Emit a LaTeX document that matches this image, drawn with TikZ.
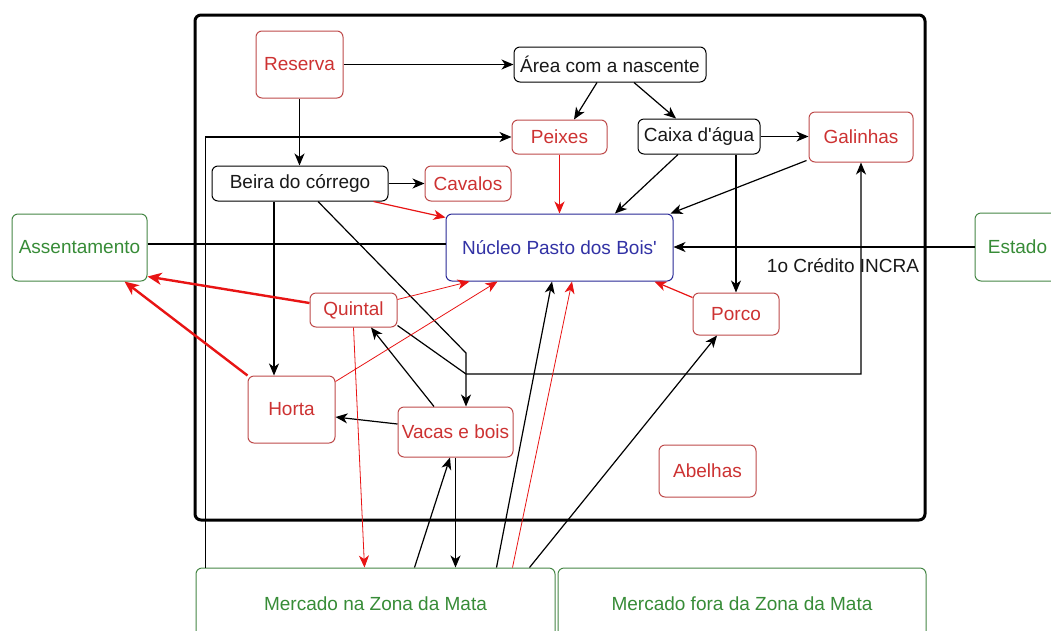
\documentclass[tikz,border=0pt]{standalone}
\usepackage{fontspec}
\setmainfont{Liberation Sans}[Ligatures=TeXOff]
\usetikzlibrary{arrows.meta,calc}
\definecolor{rbord}{RGB}{190,75,75}
\definecolor{rtext}{RGB}{205,50,50}
\definecolor{gbord}{RGB}{70,135,70}
\definecolor{gtext}{RGB}{55,140,55}
\definecolor{bbord}{RGB}{40,40,150}
\definecolor{btext}{RGB}{50,50,165}
\definecolor{ktext}{RGB}{25,25,25}
\definecolor{rline}{RGB}{232,20,20}
\newcommand\dfont{\fontsize{19}{22}\selectfont}
\tikzset{
  box/.style={draw, rounded corners=6pt, line width=1pt, inner sep=0pt, fill=white, align=center, font=\dfont},
  redbox/.style={box, draw=rbord, text=rtext},
  grnbox/.style={box, draw=gbord, text=gtext},
  blkbox/.style={box, draw=black, text=ktext},
  blubox/.style={box, draw=bbord, text=btext},
  arr/.style={draw=black, line width=1.2pt, -{Stealth[length=12pt,width=10pt,inset=3.5pt]}},
  rarr/.style={draw=rline, line width=1.2pt, -{Stealth[length=12pt,width=10pt,inset=3.5pt]}},
  rthin/.style={draw=rline, line width=0.8pt, -{Stealth[length=12pt,width=10pt,inset=3.5pt]}},
  rthick/.style={draw=rline, line width=2.4pt, -{Stealth[length=14pt,width=12pt,inset=4pt]}},
  plainline/.style={draw=black, line width=2.2pt},
  elabel/.style={font=\dfont, text=ktext, inner sep=0pt}
}
\begin{document}
\begin{tikzpicture}[x=1pt,y=-1pt]
\useasboundingbox (0,0) rectangle (1051,630);
\fill[white] (0,0) rectangle (1051,630);
\clip (0,0) rectangle (1051,630);

% container
\node[draw, line width=3pt, rounded corners=6pt, minimum width=730pt, minimum height=505pt, inner sep=0pt] (container) at (560,267.5) {};

% nodes
\node[redbox, minimum width=87pt, minimum height=67pt] (reserva) at (299.5,64.5) {Reserva};
\node[blkbox, minimum width=192pt, minimum height=35pt] (area) at (610,64.5) {Área com a nascente};
\node[redbox, minimum width=95pt, minimum height=34pt] (peixes) at (559.5,137) {Peixes};
\node[blkbox, minimum width=122pt, minimum height=35pt] (caixa) at (699,136.5) {Caixa d'água};
\node[redbox, minimum width=104pt, minimum height=50pt] (galinhas) at (861,137) {Galinhas};
\node[blkbox, minimum width=176pt, minimum height=35pt] (beira) at (300,183.5) {Beira do córrego};
\node[redbox, minimum width=86pt, minimum height=35pt] (cavalos) at (468,183.5) {Cavalos};
\node[blubox, minimum width=227pt, minimum height=67pt] (nucleo) at (559.5,247.5) {Núcleo Pasto dos Bois'};
\node[grnbox, minimum width=135pt, minimum height=67pt] (assent) at (79.5,247.5) {Assentamento};
\node[grnbox, minimum width=85pt, minimum height=68pt] (estado) at (1017.5,247) {Estado};
\node[redbox, minimum width=87pt, minimum height=34pt] (quintal) at (353.5,310) {Quintal};
\node[redbox, minimum width=86pt, minimum height=42pt] (porco) at (736,314) {Porco};
\node[redbox, minimum width=87pt, minimum height=67pt] (horta) at (291.5,409.5) {Horta};
\node[redbox, minimum width=115pt, minimum height=50pt] (vacas) at (455.5,432) {Vacas e bois};
\node[redbox, minimum width=97pt, minimum height=52pt] (abelhas) at (707.5,471) {Abelhas};
\node[grnbox, minimum width=359pt, minimum height=72pt] (mercna) at (375.5,604) {Mercado na Zona da Mata};
\node[grnbox, minimum width=368pt, minimum height=72pt] (mercfora) at (742,604) {Mercado fora da Zona da Mata};

% bend points
\coordinate (bendQ) at (466,374);
\coordinate (bendB) at (466,353);

% black connectors
\draw[arr] (reserva.east) -- (area.west);
\draw[arr] (reserva.south) -- (reserva.south |- beira.north);
\draw[arr] ([xshift=-13pt]area.south) -- ([xshift=14.5pt]peixes.north);
\draw[arr] ([xshift=24pt]area.south) -- ([xshift=-23pt]caixa.north);
\draw[arr] (beira.east) -- (beira.east -| cavalos.west);
\draw[arr] ([xshift=10pt]mercna.north west) |- (peixes.west);
\draw[arr] (caixa.east) -- (caixa.east -| galinhas.west);
\draw[arr] ([xshift=37pt]caixa.south) -- (porco.north);
\draw[arr] ([xshift=-21pt]caixa.south) -- ([xshift=55.5pt]nucleo.north);
\draw[arr] ([xshift=-2pt,yshift=2pt]galinhas.south west) -- ([xshift=-3pt]nucleo.north east);
\draw[arr] (estado.west) -- (estado.west -| nucleo.east)
  node[elabel, pos=0.437, yshift=-18.5pt] (incra) {1o Crédito INCRA};
\draw[arr] ([yshift=2pt]quintal.south east) -- (bendQ) -| (galinhas.south);
\draw[arr] ([xshift=18pt]beira.south) -- (bendB) -- (bendB |- vacas.north);
\draw[arr] ([xshift=-26pt]beira.south) -- ([xshift=-26pt]beira.south |- horta.north);
\draw[arr] ([yshift=8pt]vacas.west) -- ([yshift=-7.5pt]horta.east);
\draw[arr] ([xshift=-21.5pt]vacas.north) -- ([xshift=17.5pt]quintal.south);
\draw[arr] ([xshift=219pt]mercna.north west) -- ([xshift=-5.5pt]vacas.south);
\draw[arr] (vacas.south) -- (vacas.south |- mercna.north);
\draw[arr] ([xshift=301pt]mercna.north west) -- ([xshift=-7.5pt]nucleo.south);
\draw[arr] ([xshift=334pt]mercna.north west) -- ([xshift=-19pt]porco.south);
\draw[plainline] ([yshift=3.5pt]assent.east) -- ([yshift=3.5pt]assent.east -| nucleo.west);

% red connectors
\draw[rarr] (peixes.south) -- (nucleo.north);
\draw[rarr] ([xshift=-15pt]beira.south east) -- ([yshift=-4pt]nucleo.north west);
\draw[rarr] ([yshift=-5pt]porco.north west) -- ([xshift=-19pt]nucleo.south east);
\draw[rthin] ([yshift=-7pt]quintal.north east) -- ([xshift=24pt]nucleo.south west);
\draw[rthin] ([yshift=-6pt]horta.north east) -- ([xshift=52pt]nucleo.south west);
\draw[rthin] (quintal.south) -- ([xshift=169pt]mercna.north west);
\draw[rthin] ([xshift=317pt]mercna.north west) -- ([xshift=12.5pt]nucleo.south);
\draw[rthick] ([yshift=7pt]quintal.west) -- ([yshift=5pt]assent.south east);
\draw[rthick] (horta.north west) -- ([xshift=-23pt]assent.south east);
\end{tikzpicture}
\end{document}
